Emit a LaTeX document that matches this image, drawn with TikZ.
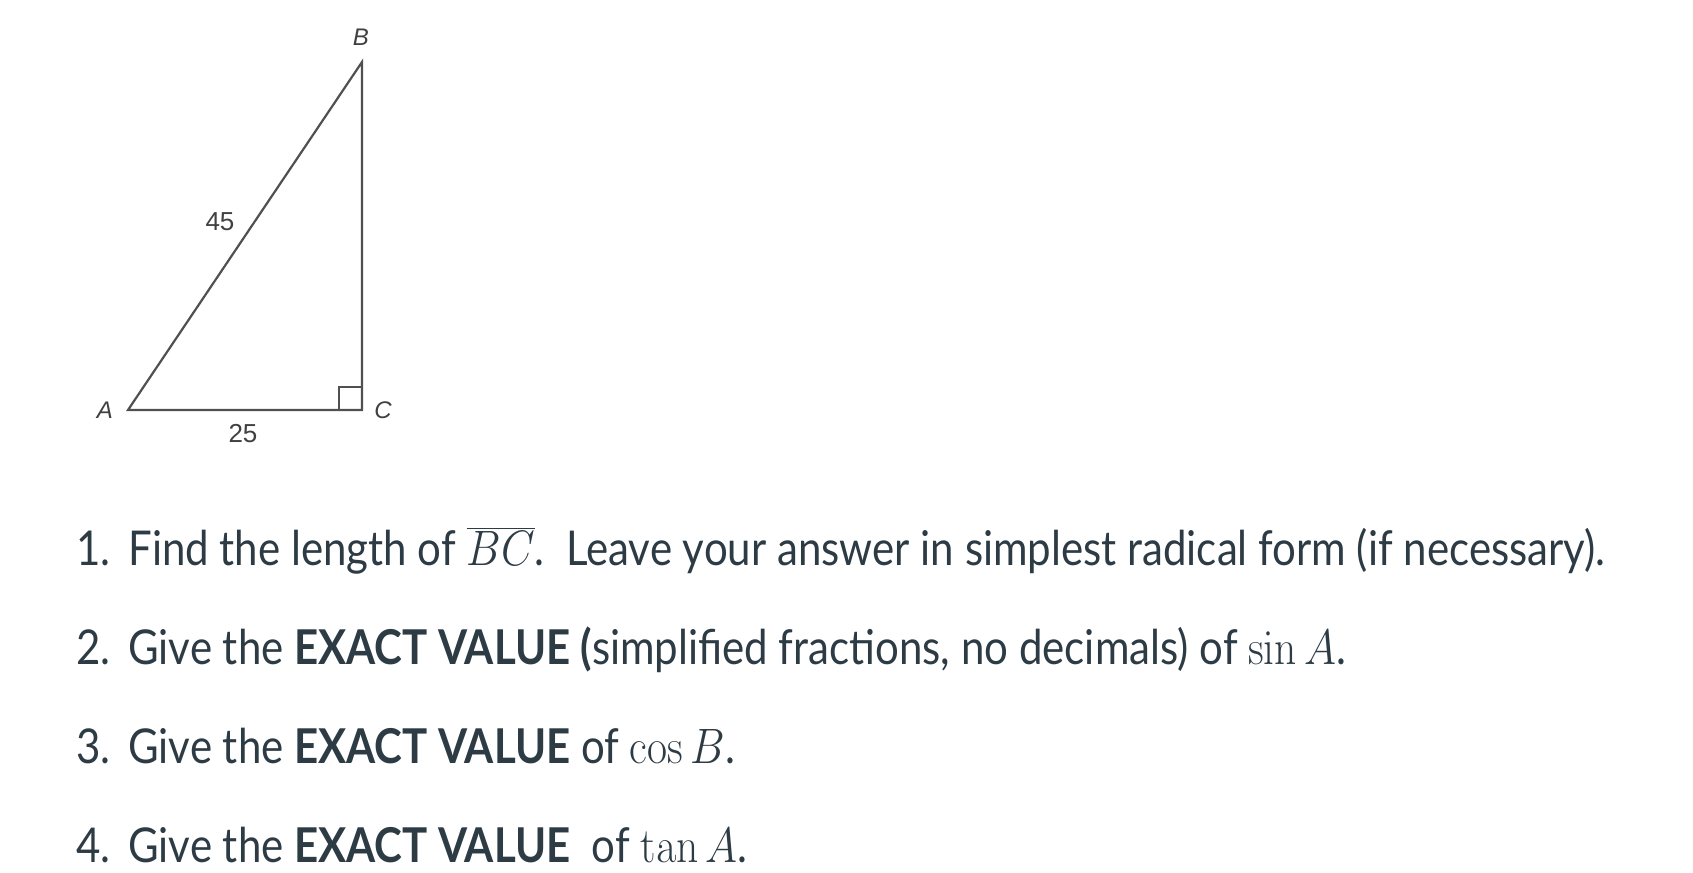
\documentclass[tikz,border=0pt]{standalone}
\usepackage[no-math]{fontspec}
\setmainfont{Lato}
\newfontfamily\figfont{Liberation Sans}
\definecolor{qtext}{HTML}{2D3B45}
\definecolor{edgegray}{HTML}{505050}
\definecolor{labgray}{HTML}{404040}
\tikzset{
  vlabel/.style={font=\figfont\fontsize{12}{14}\selectfont\itshape, text=labgray, inner sep=0pt},
  slabel/.style={font=\figfont\fontsize{13}{15}\selectfont, text=labgray, inner sep=0pt},
  question/.style={anchor=base west, inner sep=0pt, text=qtext, xscale=0.875, transform shape,
    font=\fontsize{24}{28}\selectfont}
}
\newcommand{\qnum}[1]{\makebox[29.7pt][l]{#1}}
\begin{document}
\begin{tikzpicture}[x=0.5pt,y=-0.5pt]
\useasboundingbox (0,0) rectangle (1693,873);
% triangle
\begin{scope}
\coordinate (A) at (128,410);
\coordinate (C) at (362,410);
\coordinate (B) at (362,62);
\draw[edgegray, line width=1.1pt] (A) -- (C) -- (B) -- cycle;
\draw[edgegray, line width=0.9pt] (C) ++(-23,0) -- ++(0,-23) -- ++(23,0);
\end{scope}
\begin{scope}
\node[vlabel] (labB) at (361,37) {B};
\node[vlabel] (labA) at (105,410) {A};
\node[vlabel] (labC) at (383,410) {C};
\node[slabel] (side1) at (220,222) {45};
\node[slabel] (side2) at (243,434) {25};
\end{scope}
% questions
\begin{scope}
\node[question] (q1) at (76,565) {\qnum{1.}Find the length of $\overline{BC}$.\ \ Leave your answer in simplest radical form (if necessary).};
\node[question] (q2) at (76,664) {\qnum{2.}Give the \textbf{EXACT VALUE (}simplified fractions, no decimals) of $\sin A$.};
\node[question] (q3) at (76,763) {\qnum{3.}Give the \textbf{EXACT VALUE} of $\cos B$.};
\node[question] (q4) at (76,862) {\qnum{4.}Give the \textbf{EXACT VALUE}\ \ of $\tan A$.};
\end{scope}
\end{tikzpicture}
\end{document}
